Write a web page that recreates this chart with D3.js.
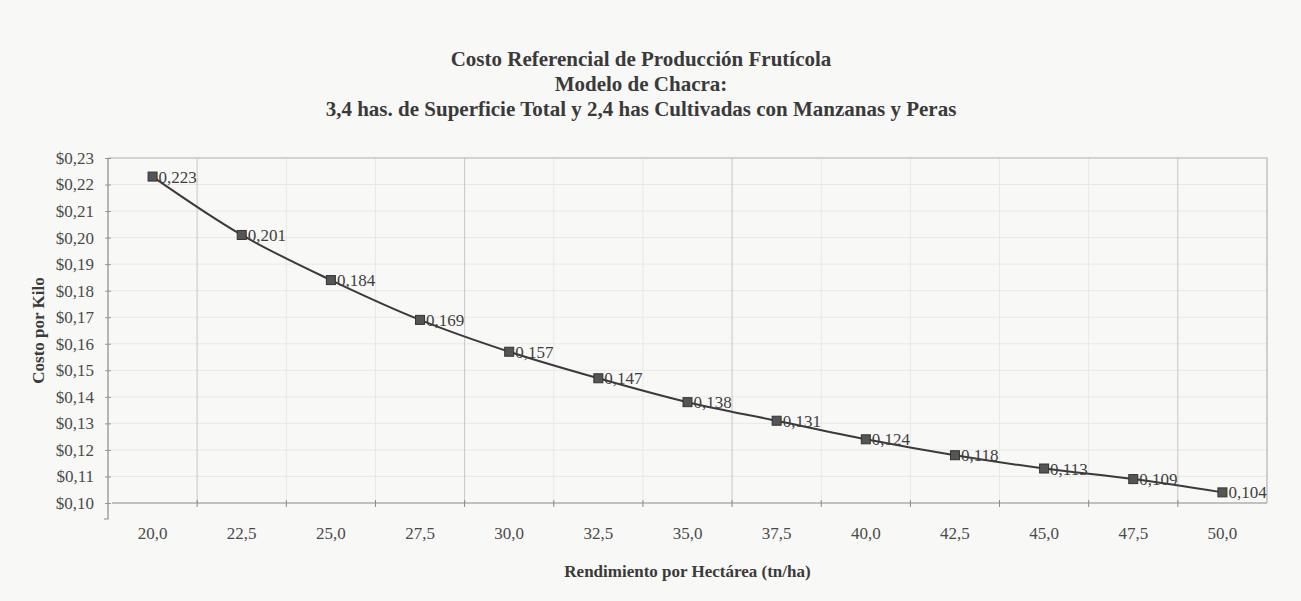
<!DOCTYPE html>
<meta charset="utf-8">
<script src="https://d3js.org/d3.v7.min.js"></script>
<style>
  body { margin: 0; background: #f8f8f6; }
  text { font-family: "Liberation Serif", "Times New Roman", serif; }
</style>
<div id="chart"></div>
<script>

// data
var categories = ["20,0", "22,5", "25,0", "27,5", "30,0", "32,5", "35,0", "37,5", "40,0", "42,5", "45,0", "47,5", "50,0"];
var costs = [0.223, 0.201, 0.184, 0.169, 0.157, 0.147, 0.138, 0.131, 0.124, 0.118, 0.113, 0.109, 0.104];
var yTicks = [0.10, 0.11, 0.12, 0.13, 0.14, 0.15, 0.16, 0.17, 0.18, 0.19, 0.20, 0.21, 0.22, 0.23];
var titleLines = [
  "Costo Referencial de Producción Frutícola",
  "Modelo de Chacra:",
  "3,4 has. de Superficie Total y 2,4 has Cultivadas con Manzanas y Peras"
];

var width = 1301,
    height = 601,
    plotL = 108, plotR = 1267, plotT = 158, plotB = 503;

var svg = d3.select("#chart").append("svg")
    .attr("width", width)
    .attr("height", height);

var es = d3.formatLocale({decimal: ",", thousands: ".", grouping: [3], currency: ["$", ""]});
var fmtTick = es.format("$.2f");
var fmtLabel = es.format(".3f");

var x = d3.scaleBand().domain(categories).range([plotL, plotR]).padding(0);
var y = d3.scaleLinear().domain([0.10, 0.23]).range([plotB, plotT]);

var pts = categories.map(function(c, i) { return {cat: c, v: costs[i]}; });

// horizontal grid
svg.append("g").selectAll("line")
  .data(yTicks.slice(1))
  .join("line")
    .attr("x1", plotL).attr("x2", plotR)
    .attr("y1", function(d) { return y(d); }).attr("y2", function(d) { return y(d); })
    .attr("stroke", "#e8e8e5").attr("stroke-width", 1);

// vertical grid at category boundaries (some printed darker on the scan)
var darker = [1, 4, 7, 12];
svg.append("g").selectAll("line")
  .data(categories.slice(1))
  .join("line")
    .attr("x1", function(d) { return x(d); }).attr("x2", function(d) { return x(d); })
    .attr("y1", plotT).attr("y2", plotB)
    .attr("stroke", function(d, i) { return darker.indexOf(i + 1) >= 0 ? "#c6c6c4" : "#e8e8e5"; })
    .attr("stroke-width", 1);

// plot border top/right
svg.append("path")
    .attr("d", "M" + plotL + "," + plotT + "H" + plotR + "V" + plotB)
    .attr("fill", "none").attr("stroke", "#b4b4b2").attr("stroke-width", 1.2);

// y axis
var yAxis = d3.axisLeft(y).tickValues(yTicks).tickFormat(fmtTick).tickSize(3).tickPadding(11);
var gy = svg.append("g").attr("transform", "translate(" + plotL + ",0)").call(yAxis);
gy.select(".domain").remove();
gy.selectAll(".tick line").attr("stroke", "#999").attr("x2", 3).attr("x1", -3);
gy.selectAll(".tick text").attr("fill", "#4a4a4a")
    .style("font-size", "17px").style("font-family", "Liberation Serif, serif");
svg.append("path")
    .attr("d", "M" + plotL + "," + plotT + "V" + (plotB + 16) + "h-4")
    .attr("fill", "none").attr("stroke", "#8a8a88").attr("stroke-width", 1.2);

// x axis
svg.append("line")
    .attr("x1", plotL + 4).attr("x2", plotR)
    .attr("y1", plotB).attr("y2", plotB)
    .attr("stroke", "#8a8a88").attr("stroke-width", 1.2);
svg.append("g").selectAll("line")
  .data(categories.slice(1))
  .join("line")
    .attr("x1", function(d) { return x(d); }).attr("x2", function(d) { return x(d); })
    .attr("y1", plotB - 3).attr("y2", plotB + 4)
    .attr("stroke", "#8a8a88");
svg.append("g").selectAll("text")
  .data(categories)
  .join("text")
    .attr("x", function(d) { return x(d) + x.bandwidth() / 2; })
    .attr("y", 539)
    .attr("text-anchor", "middle")
    .attr("fill", "#4a4a4a")
    .style("font-size", "17px")
    .text(function(d) { return d; });

// line
var line = d3.line()
    .x(function(d) { return x(d.cat) + x.bandwidth() / 2; })
    .y(function(d) { return y(d.v); })
    .curve(d3.curveCatmullRom);
svg.append("path")
    .datum(pts)
    .attr("d", line)
    .attr("fill", "none")
    .attr("stroke", "#3a3a3a")
    .attr("stroke-width", 2);

// markers
svg.append("g").selectAll("rect")
  .data(pts)
  .join("rect")
    .attr("x", function(d) { return x(d.cat) + x.bandwidth() / 2 - 4.5; })
    .attr("y", function(d) { return y(d.v) - 4.5; })
    .attr("width", 9).attr("height", 9)
    .attr("fill", "#555").attr("stroke", "#333").attr("stroke-width", 1);

// data labels
svg.append("g").selectAll("text")
  .data(pts)
  .join("text")
    .attr("x", function(d) { return x(d.cat) + x.bandwidth() / 2 + 6; })
    .attr("y", function(d) { return y(d.v) + 6; })
    .attr("fill", "#3f3f3f")
    .style("font-size", "17px")
    .text(function(d) { return fmtLabel(d.v); });

// titles
svg.append("g").selectAll("text")
  .data(titleLines)
  .join("text")
    .attr("x", 641)
    .attr("y", function(d, i) { return 66 + i * 25; })
    .attr("text-anchor", "middle")
    .attr("fill", "#3a3a3a")
    .style("font-size", "21px")
    .style("font-weight", "bold")
    .text(function(d) { return d; });

svg.append("text")
    .attr("transform", "translate(44," + ((plotT + plotB) / 2) + ") rotate(-90)")
    .attr("text-anchor", "middle")
    .attr("fill", "#3a3a3a")
    .style("font-size", "17px")
    .style("font-weight", "bold")
    .text("Costo por Kilo");

svg.append("text")
    .attr("x", (plotL + plotR) / 2)
    .attr("y", 577)
    .attr("text-anchor", "middle")
    .attr("fill", "#3a3a3a")
    .style("font-size", "17px")
    .style("font-weight", "bold")
    .text("Rendimiento por Hectárea (tn/ha)");

</script>
